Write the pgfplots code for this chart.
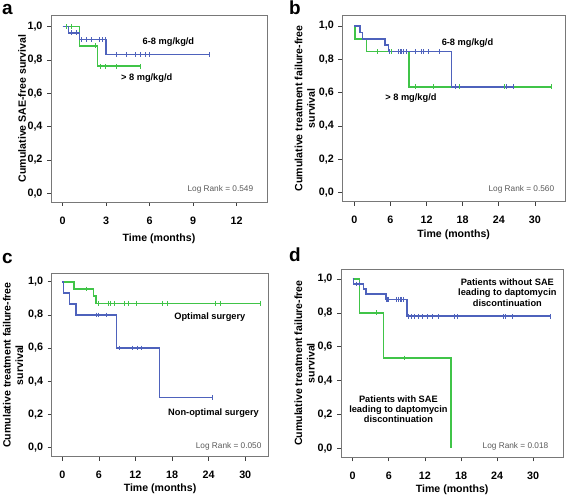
\documentclass[border=0pt]{standalone}
\usepackage{fontspec}
\setmainfont{Liberation Sans}
\usepackage{pgfplots}
\pgfplotsset{compat=1.18}
\definecolor{kmblue}{RGB}{78,98,188}
\definecolor{kmgreen}{RGB}{64,196,72}
\definecolor{frame}{RGB}{120,120,120}
\pgfplotsset{
 km/.style={
  scale only axis,
  anchor=south west,
  axis line style={draw=frame, line width=0.8pt},
  tick align=outside, xtick pos=bottom, ytick pos=left,
  major tick length=4bp,
  every tick/.style={black!75, line width=0.7pt},
  ytick={0,0.2,0.4,0.6,0.8,1.0},
  yticklabels={{0,0},{0,2},{0,4},{0,6},{0,8},{1,0}},
  ticklabel style={font=\bfseries\fontsize{10.8}{12}\selectfont},
  label style={font=\bfseries\fontsize{10.6}{12.5}\selectfont},
  xlabel={Time (months)},
  xlabel style={at={(rel axis cs:0.5,0)}, anchor=north, yshift=-28bp},
  xticklabel shift=7bp,
  yticklabel style={anchor=east, xshift=-1bp},
  clip=false,
 },
 kmline/.style={const plot, line width=1.5pt, mark=none},
 kmcens/.style={only marks, mark=|, mark size=2.4bp, mark options={line width=1pt}},
}
\tikzset{
 lab/.style={font=\bfseries\fontsize{9.3}{10.2}\selectfont, align=center},
 lr/.style={font=\fontsize{8.3}{10}\selectfont, text=black!65, anchor=east},
 letter/.style={font=\bfseries\fontsize{19}{19}\selectfont, anchor=base west, inner sep=0pt},
}
\begin{document}
\begin{tikzpicture}
\node[letter] at (2bp,480bp) {a};
\node[letter] at (289bp,480bp) {b};
\node[letter] at (2bp,231.7bp) {c};
\node[letter] at (289bp,233.3bp) {d};

% ---------------- panel a
\begin{axis}[km, at={(51bp,293bp)}, width=216bp, height=187bp,
  xmin=-0.8, xmax=14.1, ymin=-0.052, ymax=1.07,
  xtick={0,3,6,9,12}, xticklabels={0,3,6,9,12},
  ylabel={Cumulative SAE-free survival},
  ylabel style={at={(rel axis cs:-0.134,0.5)}, anchor=center}]
\addplot[kmline, kmgreen] coordinates {(0,1) (1.15,0.885) (2.41,0.763) (5.4,0.763)};
\addplot[kmcens, kmgreen] coordinates {(0.3,1) (0.63,1) (2.25,0.885) (2.6,0.763) (2.95,0.763) (3.7,0.763) (5.4,0.763)};
\addplot[kmline, kmblue] coordinates {(0,1) (0.41,0.963) (1.15,0.923) (3.0,0.833) (10.1,0.833)};
\addplot[kmcens, kmblue] coordinates {(0.58,0.963) (0.99,0.963) (1.33,0.923) (1.63,0.923) (2.02,0.923) (2.55,0.923) (2.78,0.923) (2.94,0.923) (3.7,0.833) (4.43,0.833) (5.0,0.833) (5.35,0.833) (5.69,0.833) (5.99,0.833) (10.1,0.833)};
\node[lab] at (axis cs:7.3,0.908) {6-8 mg/kg/d};
\node[lab] at (axis cs:5.8,0.69) {> 8 mg/kg/d};
\node[lr] at (rel axis cs:0.952,0.07) {Log Rank = 0.549};
\end{axis}

% ---------------- panel b
\begin{axis}[km, at={(342.3bp,293.3bp)}, width=222.7bp, height=186.7bp,
  xmin=-2.0, xmax=35.0, ymin=-0.054, ymax=1.066,
  xtick={0,6,12,18,24,30}, xticklabels={0,6,12,18,24,30},
  xlabel style={yshift=3bp},
  ylabel={Cumulative treatment failure-free\\survival},
  ylabel style={at={(rel axis cs:-0.168,0.5)}, anchor=center, align=center}]
\addplot[kmline, kmgreen] coordinates {(0,1) (0.1,0.923) (2.05,0.846) (9.08,0.635) (32.8,0.635)};
\addplot[kmcens, kmgreen] coordinates {(3.87,0.846) (6.1,0.846) (8.7,0.846) (10.2,0.635) (13.1,0.635) (17.5,0.635) (25.0,0.635) (32.8,0.635)};
\addplot[kmline, kmblue] coordinates {(0,1) (0.94,0.962) (1.38,0.923) (5.1,0.885) (5.65,0.846) (16.16,0.635) (26.45,0.635)};
\addplot[kmcens, kmblue] coordinates {(5.9,0.846) (7.3,0.846) (7.6,0.846) (7.9,0.846) (8.1,0.846) (8.6,0.846) (10.1,0.846) (11.2,0.846) (11.5,0.846) (12.3,0.846) (14.1,0.846) (16.8,0.635) (25.3,0.635) (26.45,0.635)};
\node[lab] at (axis cs:18.8,0.896) {6-8 mg/kg/d};
\node[lab] at (axis cs:9.4,0.566) {> 8 mg/kg/d};
\node[lr] at (rel axis cs:0.967,0.066) {Log Rank = 0.560};
\end{axis}

% ---------------- panel c
\begin{axis}[km, at={(51.7bp,38.3bp)}, width=216.7bp, height=183.3bp,
  xmin=-1.74, xmax=33.8, ymin=-0.057, ymax=1.051,
  xtick={0,6,12,18,24,30}, xticklabels={0,6,12,18,24,30},
  xlabel style={yshift=4bp},
  ylabel={Cumulative treatment failure-free\\survival},
  ylabel style={at={(rel axis cs:-0.178,0.5)}, anchor=center, align=center}]
\addplot[kmline, kmgreen] coordinates {(0,1) (1.9,0.957) (5.1,0.913) (5.5,0.87) (32.5,0.87)};
\addplot[kmcens, kmgreen] coordinates {(3.9,0.957) (5.9,0.87) (7.55,0.87) (7.9,0.87) (8.6,0.87) (10.2,0.87) (10.8,0.87) (12.2,0.87) (16.5,0.87) (17.3,0.87) (25.1,0.87) (26.0,0.87) (32.5,0.87)};
\addplot[kmline, kmblue] coordinates {(0,1) (0.16,0.933) (1.15,0.867) (2.24,0.8) (8.9,0.6) (15.9,0.3) (24.6,0.3)};
\addplot[kmcens, kmblue] coordinates {(5.6,0.8) (5.9,0.8) (7.3,0.8) (9.3,0.6) (11.55,0.6) (12.3,0.6) (13.0,0.6) (24.6,0.3)};
\node[lab] at (axis cs:24.2,0.789) {Optimal surgery};
\node[lab] at (axis cs:24.8,0.205) {Non-optimal surgery};
\node[lr] at (rel axis cs:0.984,0.058) {Log Rank = 0.050};
\end{axis}

% ---------------- panel d
\begin{axis}[km, at={(341bp,37.7bp)}, width=222.3bp, height=188.3bp,
  xmin=-1.94, xmax=35.0, ymin=-0.053, ymax=1.059,
  xtick={0,6,12,18,24,30}, xticklabels={0,6,12,18,24,30},
  xlabel style={yshift=4bp},
  ylabel={Cumulative treatment failure-free\\survival},
  ylabel style={at={(rel axis cs:-0.164,0.5)}, anchor=center, align=center}]
\addplot[kmline, kmgreen] coordinates {(0,1) (1.15,0.8) (5.15,0.533) (16.3,0)};
\addplot[kmcens, kmgreen] coordinates {(3.9,0.8) (8.6,0.533)};
\addplot[kmline, kmblue] coordinates {(0,1) (0.1,0.97) (1.76,0.94) (2.2,0.91) (5.5,0.88) (9.05,0.78) (32.8,0.78)};
\addplot[kmcens, kmblue] coordinates {(0.66,0.97) (1.2,0.97) (5.6,0.88) (5.8,0.88) (6.0,0.88) (7.3,0.88) (7.6,0.88) (7.9,0.88) (8.1,0.88) (8.5,0.88) (9.35,0.78) (9.8,0.78) (10.35,0.78) (10.9,0.78) (11.6,0.78) (12.45,0.78) (13.2,0.78) (14.2,0.78) (16.9,0.78) (17.5,0.78) (25.0,0.78) (25.4,0.78) (26.5,0.78) (32.8,0.78)};
\node[lab] at (axis cs:25.7,0.92) {Patients without SAE\\leading to daptomycin\\discontinuation};
\node[lab] at (axis cs:7.6,0.23) {Patients with SAE\\leading to daptomycin\\discontinuation};
\node[lr] at (rel axis cs:0.948,0.056) {Log Rank = 0.018};
\end{axis}
\pgfresetboundingbox
\path[use as bounding box] (0,0) rectangle (567bp,495bp);
\end{tikzpicture}
\end{document}
